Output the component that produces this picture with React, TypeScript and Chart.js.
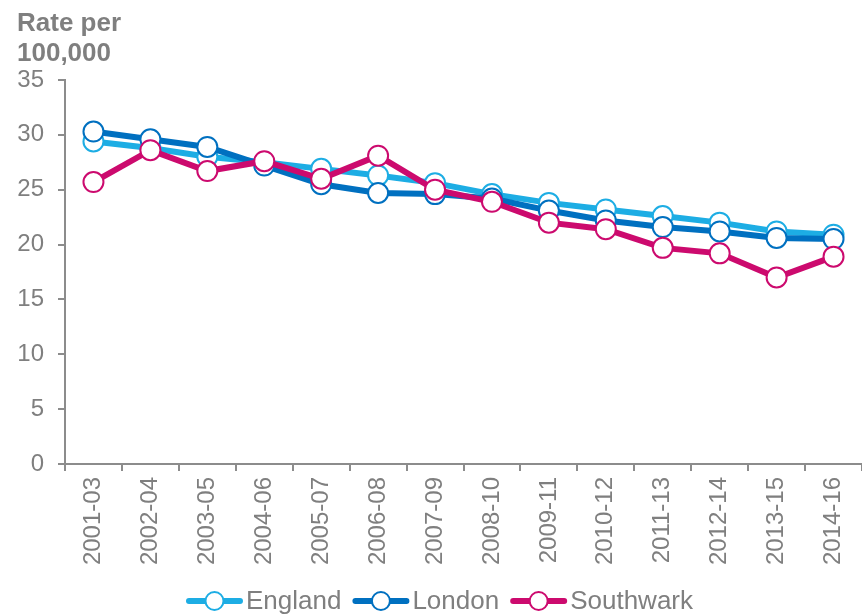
import React, { useEffect, useRef } from "react";
import { Chart, registerables } from "chart.js";

Chart.register(...registerables);

const categories = ["2001-03","2002-04","2003-05","2004-06","2005-07","2006-08","2007-09","2008-10","2009-11","2010-12","2011-13","2012-14","2013-15","2014-16"];
const england = [29.4, 28.8, 28.0, 27.5, 26.9, 26.3, 25.6, 24.6, 23.8, 23.2, 22.6, 22.0, 21.2, 20.9];
const london = [30.3, 29.6, 28.9, 27.2, 25.5, 24.7, 24.6, 24.2, 23.1, 22.2, 21.6, 21.2, 20.6, 20.5];
const southwark = [25.7, 28.6, 26.7, 27.6, 26.0, 28.1, 25.0, 23.9, 22.0, 21.4, 19.7, 19.2, 17.0, 18.9];
const yTicks = [0, 5, 10, 15, 20, 25, 30, 35];
const titleLines = ["Rate per", "100,000"];

const C_ENG = "#1DADE4";
const C_LON = "#0070C0";
const C_SWK = "#CC0A6E";
const GREY = "#7F7F7F";
const AXIS = "#8C8C8C";
const FONT = "'Liberation Sans', Arial, sans-serif";

export default function App() {
  const ref = useRef<HTMLCanvasElement | null>(null);
  useEffect(() => {
    document.body.style.margin = "0";
    const canvas = ref.current!;
    const series = [
      { label: "England", data: england, color: C_ENG, order: 3 },
      { label: "London", data: london, color: C_LON, order: 2 },
      { label: "Southwark", data: southwark, color: C_SWK, order: 1 },
    ];
    const overlay = {
      id: "overlay",
      afterDraw(chart: any) {
        const ctx = chart.ctx;
        ctx.save();
        ctx.fillStyle = GREY;
        ctx.font = `bold 26px ${FONT}`;
        ctx.textAlign = "left";
        ctx.textBaseline = "alphabetic";
        ctx.fillText(titleLines[0], 17, 31);
        ctx.fillText(titleLines[1], 17, 61);
        // legend
        ctx.font = `26px ${FONT}`;
        const lineLen = 55, textGap = 4, itemGap = 12;
        const widths = series.map((s) => ctx.measureText(s.label).width);
        let total = 0;
        widths.forEach((w, i) => { total += lineLen + textGap + w + (i < widths.length - 1 ? itemGap : 0); });
        let x = 440 - total / 2;
        const y = 601;
        series.forEach((s, i) => {
          ctx.strokeStyle = s.color;
          ctx.lineWidth = 6;
          ctx.lineCap = "round";
          ctx.beginPath();
          ctx.moveTo(x + 2, y);
          ctx.lineTo(x + lineLen - 2, y);
          ctx.stroke();
          ctx.beginPath();
          ctx.arc(x + lineLen / 2, y, 9, 0, Math.PI * 2);
          ctx.fillStyle = "#fff";
          ctx.fill();
          ctx.lineWidth = 2;
          ctx.stroke();
          ctx.fillStyle = GREY;
          ctx.textBaseline = "middle";
          ctx.fillText(s.label, x + lineLen + textGap, y + 1);
          x += lineLen + textGap + widths[i] + itemGap;
        });
        ctx.restore();
      },
    };
    const chart = new Chart(canvas, {
      type: "line",
      data: {
        labels: categories,
        datasets: series.map((s) => ({
          label: s.label,
          data: s.data,
          borderColor: s.color,
          backgroundColor: "#ffffff",
          borderWidth: 6,
          pointRadius: 10,
          pointBorderWidth: 2,
          pointBackgroundColor: "#ffffff",
          pointBorderColor: s.color,
          tension: 0,
          order: s.order,
          clip: false,
        })),
      },
      options: {
        animation: false,
        responsive: false,
        maintainAspectRatio: false,
        layout: { autoPadding: false, padding: { top: 80, left: 0, right: 0, bottom: 40 } },
        plugins: { legend: { display: false }, title: { display: false }, tooltip: { enabled: false } },
        scales: {
          x: {
            type: "category",
            offset: true,
            grid: { display: true, drawOnChartArea: false, drawTicks: true, tickLength: 7, color: AXIS, lineWidth: 2, offset: true },
            border: { display: true, color: AXIS, width: 2 },
            ticks: { color: GREY, font: { family: FONT, size: 24 }, minRotation: 90, maxRotation: 90, padding: 6, autoSkip: false },
            afterFit(scale: any) { scale.height = 111; scale.paddingLeft = 0; scale.paddingRight = 0; },
          },
          y: {
            min: 0,
            max: 35,
            afterBuildTicks(scale: any) { scale.ticks = yTicks.map((v) => ({ value: v })); },
            grid: { display: true, drawOnChartArea: false, drawTicks: true, tickLength: 7, color: AXIS, lineWidth: 2 },
            border: { display: true, color: AXIS, width: 2 },
            ticks: { color: GREY, font: { family: FONT, size: 24 }, padding: 14 },
            afterFit(scale: any) { scale.width = 65; scale.paddingTop = 0; scale.paddingBottom = 0; },
          },
        },
      },
      plugins: [overlay],
    });
    return () => chart.destroy();
  }, []);
  return (
    <div style={{ width: 862, height: 615 }}>
      <canvas ref={ref} width={862} height={615} style={{ display: "block", width: 862, height: 615 }} />
    </div>
  );
}
